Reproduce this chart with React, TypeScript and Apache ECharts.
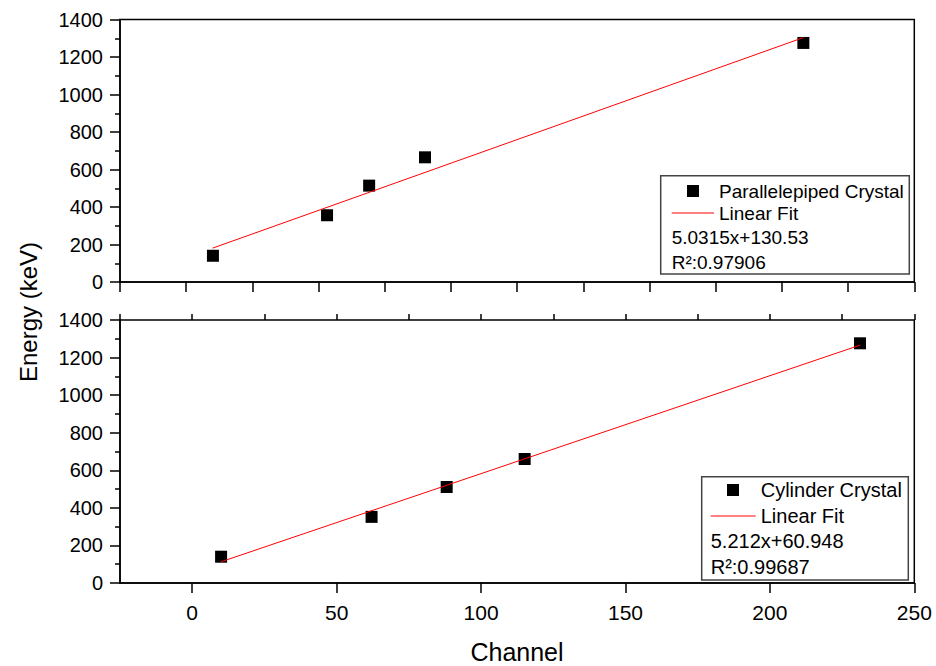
import React, { useEffect, useRef } from "react";
import * as echarts from "echarts";

// Top panel: Parallelepiped Crystal
const topChannels = [10.1, 53.2, 69.1, 90.2, 233.1];
const topEnergies = [140, 356, 514, 665, 1275];
const topFitX = [10.0, 233.1];
const topFitY = [180.8, 1303.4];

// Bottom panel: Cylinder Crystal
const botChannels = [10.0, 62.1, 88.1, 115.1, 231.2];
const botEnergies = [140, 352, 511, 660, 1276];
const botFitX = [10.0, 231.2];
const botFitY = [113.1, 1266.0];

const yTicks = [0, 1400, 200];
const xLabelValues = [0, 50, 100, 150, 200, 250];

const topLegend = ["Parallelepiped Crystal", "Linear Fit", "5.0315x+130.53", "R²:0.97906"];
const botLegend = ["Cylinder Crystal", "Linear Fit", "5.212x+60.948", "R²:0.99687"];

const FONT = "'Liberation Sans', Arial, sans-serif";

export default function App() {
  const ref = useRef<HTMLDivElement>(null);
  useEffect(() => {
    if (!ref.current) return;
    const chart = echarts.init(ref.current, null, { renderer: "svg" });
    const axisLine = { show: true, onZero: false, lineStyle: { color: "#000", width: 1.5 } };
    const yAxisBase = (gridIndex: number) => ({
      type: "value",
      gridIndex,
      min: yTicks[0],
      max: yTicks[1],
      interval: yTicks[2],
      axisLine,
      axisTick: { show: true, length: 10, inside: false, lineStyle: { color: "#000", width: 1.5 } },
      minorTick: { show: true, splitNumber: 2, length: 5, lineStyle: { color: "#000", width: 1.5 } },
      splitLine: { show: false },
      axisLabel: {
        fontSize: 20,
        color: "#000",
        fontFamily: FONT,
        margin: 17,
        formatter: (v: number) => String(v),
      },
    });
    const legendGraphic = (
      box: number[],
      sym: number[],
      line: number[],
      texts: string[],
      pos: number[][],
      fs: number
    ) => [
      {
        type: "rect",
        shape: { x: box[0], y: box[1], width: box[2], height: box[3] },
        style: { fill: "#fff", stroke: "#444", lineWidth: 1.5 },
        z: 100,
      },
      {
        type: "rect",
        shape: { x: sym[0] - 6, y: sym[1] - 6, width: 12, height: 12 },
        style: { fill: "#000" },
        z: 101,
      },
      {
        type: "line",
        shape: { x1: line[0], y1: line[2], x2: line[1], y2: line[2] },
        style: { stroke: "#ff0000", lineWidth: 1 },
        z: 101,
      },
      ...texts.map((t, i) => ({
        type: "text",
        x: pos[i][0],
        y: pos[i][1],
        z: 101,
        style: {
          text: t,
          fontSize: fs,
          fontFamily: FONT,
          fill: "#000",
          textAlign: "left",
          textVerticalAlign: "middle",
        },
      })),
    ];

    chart.setOption({
      animation: false,
      backgroundColor: "#fff",
      grid: [
        { left: 120, top: 19.5, width: 794.3, height: 262.5, show: true, borderColor: "#000", borderWidth: 1.5, backgroundColor: "transparent" },
        { left: 120, top: 320, width: 794.3, height: 263, show: true, borderColor: "#000", borderWidth: 1.5, backgroundColor: "transparent" },
      ],
      xAxis: [
        {
          type: "value",
          gridIndex: 0,
          min: -25,
          max: 275,
          interval: 25,
          axisLine,
          axisTick: { show: true, length: 10, lineStyle: { color: "#000", width: 1.5 } },
          axisLabel: { show: false },
          splitLine: { show: false },
        },
        {
          type: "value",
          gridIndex: 1,
          min: -25,
          max: 250,
          axisLine,
          axisTick: { show: true, length: 10, customValues: xLabelValues, lineStyle: { color: "#000", width: 1.5 } },
          axisLabel: { show: true, customValues: xLabelValues, fontSize: 21, color: "#000", fontFamily: FONT, margin: 19 },
          splitLine: { show: false },
        },
        {
          type: "value",
          gridIndex: 1,
          min: -25,
          max: 250,
          interval: 25,
          axisLine: { show: false, onZero: false },
          axisTick: { show: true, length: 6, lineStyle: { color: "#000", width: 1.5 } },
          axisLabel: { show: false },
          splitLine: { show: false },
        },
      ],
      yAxis: [yAxisBase(0), yAxisBase(1)],
      series: [
        {
          type: "line",
          xAxisIndex: 0,
          yAxisIndex: 0,
          data: topFitX.map((x, i) => [x, topFitY[i]]),
          showSymbol: false,
          lineStyle: { color: "#ff0000", width: 1 },
          z: 3,
        },
        {
          type: "scatter",
          xAxisIndex: 0,
          yAxisIndex: 0,
          data: topChannels.map((x, i) => [x, topEnergies[i]]),
          symbol: "rect",
          symbolSize: 12,
          itemStyle: { color: "#000", opacity: 1 },
          z: 2,
        },
        {
          type: "line",
          xAxisIndex: 1,
          yAxisIndex: 1,
          data: botFitX.map((x, i) => [x, botFitY[i]]),
          showSymbol: false,
          lineStyle: { color: "#ff0000", width: 1 },
          z: 3,
        },
        {
          type: "scatter",
          xAxisIndex: 1,
          yAxisIndex: 1,
          data: botChannels.map((x, i) => [x, botEnergies[i]]),
          symbol: "rect",
          symbolSize: 12,
          itemStyle: { color: "#000", opacity: 1 },
          z: 2,
        },
      ],
      graphic: [
        ...legendGraphic(
          [660.7, 175.7, 248.6, 98.3],
          [693, 191],
          [671.7, 714, 213],
          topLegend,
          [[719, 191], [719, 213], [671.7, 237], [671.7, 262]],
          19
        ),
        ...legendGraphic(
          [701.7, 476.7, 206.6, 103.3],
          [733, 490],
          [710.7, 755.7, 516],
          botLegend,
          [[760.7, 490], [760.7, 516], [710.7, 541], [710.7, 567]],
          20
        ),
        {
          type: "text",
          x: 28,
          y: 312,
          rotation: Math.PI / 2,
          style: {
            text: "Energy (keV)",
            fontSize: 24,
            fontFamily: FONT,
            fill: "#000",
            textAlign: "center",
            textVerticalAlign: "middle",
          },
        },
        {
          type: "text",
          x: 517,
          y: 652,
          style: {
            text: "Channel",
            fontSize: 25,
            fontFamily: FONT,
            fill: "#000",
            textAlign: "center",
            textVerticalAlign: "middle",
          },
        },
      ],
    });
    return () => chart.dispose();
  }, []);
  return (
    <div
      ref={ref}
      style={{ position: "fixed", left: 0, top: 0, width: 936, height: 666, background: "#fff" }}
    />
  );
}
